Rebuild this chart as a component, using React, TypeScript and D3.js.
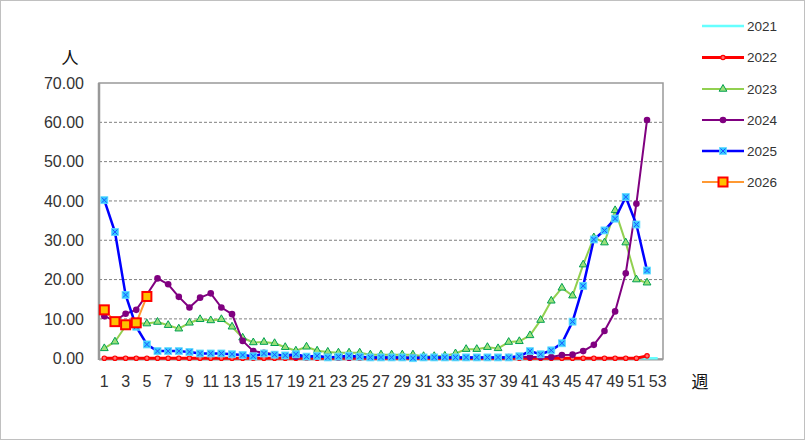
import React, { useEffect, useRef } from "react";
import * as d3 from "d3";

// weeks 1..53 (category axis)
const weeks = d3.range(1, 54).map(String);
const yTicks = [0, 10, 20, 30, 40, 50, 60, 70];
const years = ["2021", "2022", "2023", "2024", "2025", "2026"];

const v2021 = [0, 0, 0, 0, 0, 0, 0, 0, 0, 0, 0, 0, 0, 0, 0, 0, 0, 0, 0, 0, 0, 0, 0, 0, 0, 0, 0, 0, 0, 0, 0, 0, 0, 0, 0, 0, 0, 0, 0, 0, 0, 0, 0, 0, 0, 0, 0, 0, 0, 0, 0, 0, 0];
const v2022 = [0, 0, 0, 0, 0, 0, 0, 0, 0, 0, 0, 0, 0, 0, 0, 0, 0, 0, 0, 0, 0, 0, 0, 0, 0, 0, 0, 0, 0, 0, 0, 0, 0, 0, 0, 0, 0, 0, 0, 0, 0, 0, 0, 0, 0, 0, 0, 0, 0, 0, 0, 0.6];
const v2023 = [2.5, 4.2, 8.2, 8.8, 8.8, 9.2, 8.4, 7.5, 9.0, 9.9, 9.6, 9.9, 8.0, 5.2, 4.0, 4.1, 3.8, 2.8, 1.9, 2.9, 1.9, 1.6, 1.4, 1.4, 1.4, 0.9, 0.9, 0.9, 0.9, 0.9, 0.5, 0.5, 0.6, 1.2, 2.3, 2.3, 2.8, 2.5, 4.1, 4.3, 5.8, 9.7, 14.6, 17.9, 15.9, 23.8, 30.7, 29.4, 37.6, 29.4, 20.0, 19.2];
const v2024 = [10.7, 9.5, 11.3, 12.3, 16.2, 20.3, 18.8, 15.6, 12.9, 15.4, 16.5, 12.9, 11.2, 4.4, 1.8, 1.4, 1.0, 0.6, 0.4, 0.3, 0.3, 0.3, 0.2, 0.2, 0.3, 0.2, 0.2, 0.2, 0.2, 0.2, 0.2, 0.2, 0.2, 0.2, 0.2, 0.2, 0.2, 0.2, 0.3, 0.4, 0.3, 0.3, 0.3, 0.8, 0.9, 1.8, 3.4, 6.9, 11.9, 21.6, 39.3, 60.6];
const v2025 = [40.2, 32.1, 16.1, 8.0, 3.5, 1.8, 1.8, 1.8, 1.6, 1.2, 1.2, 1.2, 1.0, 0.8, 0.5, 1.2, 0.9, 0.7, 1.0, 0.4, 0.6, 0.2, 0.4, 0.6, 0.4, 0.2, 0.2, 0.2, 0.2, 0.0, 0.2, 0.2, 0.2, 0.2, 0.2, 0.2, 0.2, 0.2, 0.2, 0.5, 1.8, 1.0, 2.0, 3.8, 9.3, 18.4, 30.2, 32.5, 35.5, 41.0, 34.0, 22.3];
const v2026 = [12.3, 9.3, 8.5, 9.0, 15.7];

const seriesValues = [v2021, v2022, v2023, v2024, v2025, v2026];
const lineColors = ["#66FFFF", "#FF0000", "#92D050", "#800080", "#0000FF", "#FF9933"];
const lineWidths = [2.5, 3, 2, 2, 2.5, 2];

const font = "'Liberation Sans', Arial, sans-serif";

const App = () => {
    const ref = useRef<SVGSVGElement>(null);

    useEffect(() => {
        const svg = d3.select(ref.current);
        svg.selectAll("*").remove();

        const left = 99, right = 663, top = 83, bottom = 359;
        const x = d3.scalePoint().domain(weeks).range([left, right]).padding(0.5);
        const y = d3.scaleLinear().domain([0, 70]).range([bottom - 0.8, top]);

        // outer frame
        svg.append("rect").attr("x", 0.5).attr("y", 0.5).attr("width", 804).attr("height", 439)
            .attr("fill", "#fff").attr("stroke", "#c0c0c0");

        // gridlines
        svg.append("g").selectAll("line").data(yTicks.filter(t => t > 0 && t < 70)).join("line")
            .attr("x1", left).attr("x2", right).attr("y1", d => y(d)).attr("y2", d => y(d))
            .attr("stroke", "#808080").attr("stroke-dasharray", "3,2");

        // plot border
        svg.append("rect").attr("x", left).attr("y", top).attr("width", right - left).attr("height", bottom - top)
            .attr("fill", "none").attr("stroke", "#999").attr("stroke-width", 1.5);
        svg.append("line").attr("x1", left).attr("x2", left).attr("y1", top).attr("y2", bottom + 1)
            .attr("stroke", "#999").attr("stroke-width", 2.5);
        svg.append("line").attr("x1", left).attr("x2", right).attr("y1", bottom + 0.5).attr("y2", bottom + 0.5)
            .attr("stroke", "#999").attr("stroke-width", 2);

        // y tick labels
        svg.append("g").selectAll("text").data(yTicks).join("text")
            .attr("x", 84).attr("y", d => y(d)).attr("dy", "0.36em").attr("text-anchor", "end")
            .attr("font-family", font).attr("font-size", 16).attr("fill", "#333")
            .text(d => d.toFixed(2));

        // x tick labels (odd weeks)
        svg.append("g").selectAll("text").data(weeks.filter((w, i) => i % 2 === 0)).join("text")
            .attr("x", d => x(d)!).attr("y", 381).attr("dy", "0.36em").attr("text-anchor", "middle")
            .attr("font-family", font).attr("font-size", 16).attr("fill", "#333")
            .text(d => d);

        // axis titles
        svg.append("text").attr("x", 70).attr("y", 58).attr("dy", "0.36em").attr("text-anchor", "middle")
            .attr("font-family", "'Noto Sans CJK JP'").attr("font-size", 17).attr("fill", "#111").text("人");
        svg.append("text").attr("x", 700).attr("y", 382).attr("dy", "0.36em").attr("text-anchor", "middle")
            .attr("font-family", "'Noto Sans CJK JP'").attr("font-size", 17).attr("fill", "#111").text("週");

        const marker = (g: any, i: number, cx: number, cy: number) => {
            if (i === 1) {
                g.append("circle").attr("cx", cx).attr("cy", cy).attr("r", 2.2)
                    .attr("fill", "#FF7070").attr("stroke", "#FF0000").attr("stroke-width", 1.2);
            } else if (i === 2) {
                g.append("path").attr("d", d3.symbol(d3.symbolTriangle, 26)())
                    .attr("transform", `translate(${cx},${cy})`)
                    .attr("fill", "#9BE07A").attr("stroke", "#00A050").attr("stroke-width", 1);
            } else if (i === 3) {
                g.append("circle").attr("cx", cx).attr("cy", cy).attr("r", 3.3).attr("fill", "#800080");
            } else if (i === 4) {
                g.append("rect").attr("x", cx - 3.5).attr("y", cy - 3.5).attr("width", 7).attr("height", 7)
                    .attr("fill", "#33CCFF").attr("stroke", "#66DDFF").attr("stroke-width", 0.8);
                g.append("path").attr("d", `M${cx - 2.5},${cy - 2.5}L${cx + 2.5},${cy + 2.5}M${cx + 2.5},${cy - 2.5}L${cx - 2.5},${cy + 2.5}`)
                    .attr("stroke", "#1E50FF").attr("stroke-width", 1);
            } else if (i === 5) {
                g.append("rect").attr("x", cx - 4.5).attr("y", cy - 4.5).attr("width", 9).attr("height", 9)
                    .attr("fill", "#FFC000").attr("stroke", "#FF0000").attr("stroke-width", 2);
            }
        };

        const line = d3.line<number>().x((d, i) => x(weeks[i])!).y(d => y(d));

        seriesValues.forEach((vals, i) => {
            const g = svg.append("g");
            g.append("path").attr("d", line(vals)).attr("fill", "none")
                .attr("stroke", lineColors[i]).attr("stroke-width", lineWidths[i]).attr("stroke-linejoin", "round");
            vals.forEach((v, j) => marker(g, i, x(weeks[j])!, y(v)));
        });

        // legend
        const legendY = [26, 57.5, 89, 120, 151, 182];
        years.forEach((yr, i) => {
            const g = svg.append("g");
            g.append("line").attr("x1", 702).attr("x2", 744).attr("y1", legendY[i]).attr("y2", legendY[i])
                .attr("stroke", lineColors[i]).attr("stroke-width", lineWidths[i]);
            marker(g, i, 723, legendY[i]);
            g.append("text").attr("x", 747).attr("y", legendY[i]).attr("dy", "0.36em")
                .attr("font-family", font).attr("font-size", 13.5).attr("fill", "#333").text(yr);
        });
    }, []);

    return (
        <div>
            <style>{"body{margin:0}"}</style>
            <svg ref={ref} width={805} height={440} style={{ display: "block" }} />
        </div>
    );
};

export default App;
